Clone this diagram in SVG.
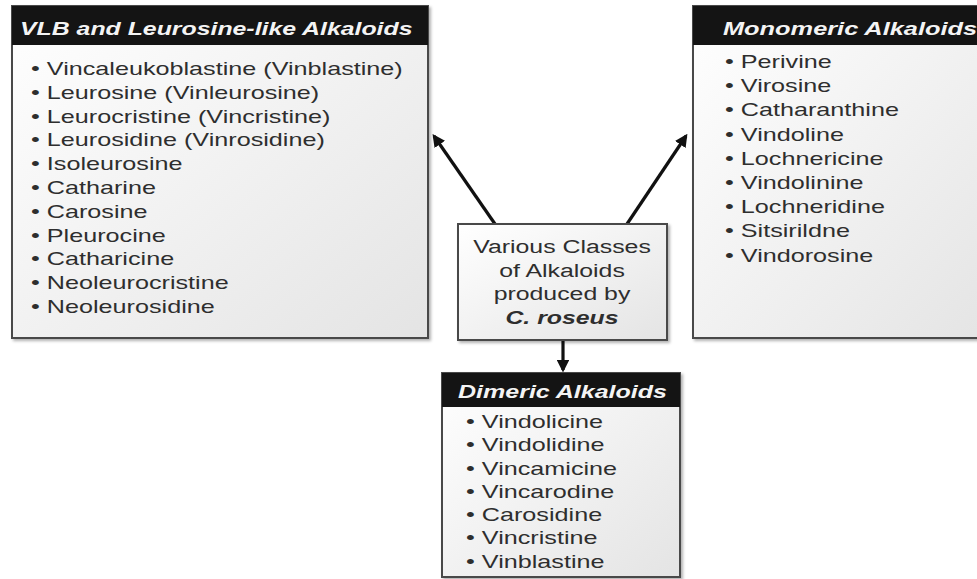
<svg xmlns="http://www.w3.org/2000/svg" width="977" height="579" viewBox="0 0 977 579">
<defs>
<linearGradient id="bg" x1="0" y1="0" x2="1" y2="1">
<stop offset="0" stop-color="#ffffff"/>
<stop offset="1" stop-color="#e4e4e4"/>
</linearGradient>
<marker id="ah" viewBox="0 0 10 10" refX="8" refY="5" markerWidth="4" markerHeight="4" orient="auto" markerUnits="strokeWidth">
<path d="M0,0 L10,5 L0,10 z" fill="#111"/>
</marker>
<filter id="sh" x="-5%" y="-5%" width="115%" height="115%">
<feDropShadow dx="2" dy="2" stdDeviation="1.5" flood-color="#000" flood-opacity="0.3"/>
</filter>
</defs>
<style>
.box{fill:url(#bg);stroke:#4a4a4a;stroke-width:2;filter:url(#sh)}
.hdr{fill:#141414}
.ht{font-family:"Liberation Sans",Arial,sans-serif;font-size:17.5px;font-weight:bold;font-style:italic;fill:#f4f4f4}
.it{font-family:"Liberation Sans",Arial,sans-serif;font-size:18px;fill:#2e2e2e}
.ct{font-family:"Liberation Sans",Arial,sans-serif;font-size:18px;fill:#2e2e2e;text-anchor:middle}
.conn{stroke:#111;stroke-width:3.2;fill:none;marker-end:url(#ah)}
</style>
<rect width="977" height="579" fill="#ffffff"/>
<g id="connectors">
<line class="conn" x1="495" y1="224" x2="434" y2="136"/>
<line class="conn" x1="627" y1="224" x2="686" y2="136"/>
<line class="conn" x1="563" y1="340" x2="563" y2="370"/>
</g>
<g id="vlb">
<rect class="box" x="12" y="6" width="416" height="332"/>
<rect class="hdr" x="12" y="6" width="416" height="39"/>
<g transform="translate(20,0) scale(1.42,1)"><text class="ht" x="0" y="35">VLB and Leurosine-like Alkaloids</text></g>
<g transform="translate(31,0) scale(1.4,1)">
<text class="it" x="0" y="75">• Vincaleukoblastine (Vinblastine)</text>
<text class="it" x="0" y="98.8">• Leurosine (Vinleurosine)</text>
<text class="it" x="0" y="122.6">• Leurocristine (Vincristine)</text>
<text class="it" x="0" y="146.4">• Leurosidine (Vinrosidine)</text>
<text class="it" x="0" y="170.2">• Isoleurosine</text>
<text class="it" x="0" y="194">• Catharine</text>
<text class="it" x="0" y="217.8">• Carosine</text>
<text class="it" x="0" y="241.6">• Pleurocine</text>
<text class="it" x="0" y="265.4">• Catharicine</text>
<text class="it" x="0" y="289.2">• Neoleurocristine</text>
<text class="it" x="0" y="313">• Neoleurosidine</text>
</g>
</g>
<g id="monomeric">
<rect class="box" x="693" y="6" width="300" height="332"/>
<rect class="hdr" x="693" y="6" width="300" height="39"/>
<g transform="translate(723,0) scale(1.45,1)"><text class="ht" x="0" y="35">Monomeric Alkaloids</text></g>
<g transform="translate(725,0) scale(1.4,1)">
<text class="it" x="0" y="68">• Perivine</text>
<text class="it" x="0" y="92.2">• Virosine</text>
<text class="it" x="0" y="116.4">• Catharanthine</text>
<text class="it" x="0" y="140.6">• Vindoline</text>
<text class="it" x="0" y="164.8">• Lochnericine</text>
<text class="it" x="0" y="189">• Vindolinine</text>
<text class="it" x="0" y="213.2">• Lochneridine</text>
<text class="it" x="0" y="237.4">• Sitsirildne</text>
<text class="it" x="0" y="261.6">• Vindorosine</text>
</g>
</g>
<g id="center">
<rect class="box" x="458" y="224" width="209" height="116"/>
<g transform="translate(562,0) scale(1.38,1)">
<text class="ct" x="0" y="253">Various Classes</text>
<text class="ct" x="0" y="277">of Alkaloids</text>
<text class="ct" x="0" y="300">produced by</text>
<text class="ct" x="0" y="324" font-weight="bold" font-style="italic">C. roseus</text>
</g>
</g>
<g id="dimeric">
<rect class="box" x="442" y="373" width="238" height="204"/>
<rect class="hdr" x="442" y="373" width="238" height="34"/>
<g transform="translate(458,0) scale(1.43,1)"><text class="ht" x="0" y="398">Dimeric Alkaloids</text></g>
<g transform="translate(466,0) scale(1.4,1)">
<text class="it" x="0" y="428">• Vindolicine</text>
<text class="it" x="0" y="451.3">• Vindolidine</text>
<text class="it" x="0" y="474.6">• Vincamicine</text>
<text class="it" x="0" y="497.9">• Vincarodine</text>
<text class="it" x="0" y="521.2">• Carosidine</text>
<text class="it" x="0" y="544.5">• Vincristine</text>
<text class="it" x="0" y="567.8">• Vinblastine</text>
</g>
</g>
</svg>
